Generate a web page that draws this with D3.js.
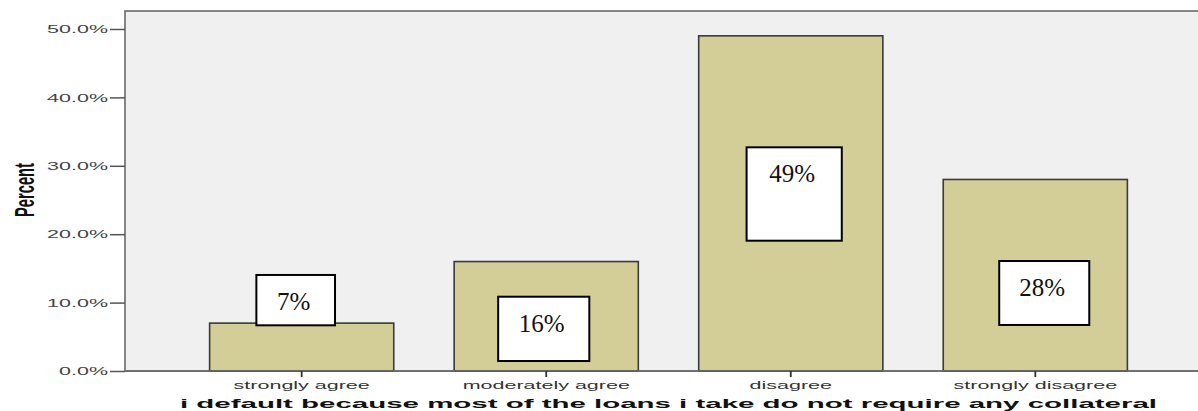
<!DOCTYPE html>
<html>
<head>
<meta charset="utf-8">
<script src="https://cdn.jsdelivr.net/npm/d3@7"></script>
<style>
  html, body { margin: 0; padding: 0; background: #ffffff; }
  svg { display: block; }
</style>
</head>
<body>
<script>
// ---- data ----
const categories = ["strongly agree", "moderately agree", "disagree", "strongly disagree"];
const percentValues = [7, 16, 49, 28];
const boxLabels = ["7%", "16%", "49%", "28%"];
const yTicks = [0, 10, 20, 30, 40, 50];
const yTickLabels = ["0.0%", "10.0%", "20.0%", "30.0%", "40.0%", "50.0%"];
const xTitle = "i default because most of the loans i take do not require any collateral";
const yTitle = "Percent";

// annotation box layout (fractions of bar width, percent units for top/bottom)
const boxLeftFrac = [0.254, 0.239, 0.260, 0.304];
const boxRightFrac = [0.681, 0.734, 0.777, 0.793];
const boxTop = [14.04, 10.86, 32.7, 16.08];
const boxBottom = [6.68, 1.46, 19.05, 6.73];

// ---- layout ----
const W = 1198, H = 411;
const plot = { left: 125, right: 1212, top: 11, bottom: 371 };
const SX = 2.15; // horizontal text stretch

const svg = d3.select("body").append("svg").attr("width", W).attr("height", H);

const x = d3.scaleBand().domain(categories).range([plot.left, plot.right])
  .paddingInner(0.247).paddingOuter(0.346);
const y = d3.scaleLinear().domain([0, 52.63]).range([plot.bottom, plot.top]);

// plot background
svg.append("rect")
  .attr("x", plot.left).attr("y", plot.top)
  .attr("width", plot.right - plot.left).attr("height", plot.bottom - plot.top)
  .attr("fill", "#f0f0f0").attr("stroke", "#6a6a6a").attr("stroke-width", 1.6);

// bars
const bars = categories.map((c, i) => ({ c, v: percentValues[i], i }));
svg.append("g").selectAll("rect").data(bars).join("rect")
  .attr("x", d => x(d.c)).attr("y", d => y(d.v))
  .attr("width", x.bandwidth()).attr("height", d => y(0) - y(d.v))
  .attr("fill", "#d3ce98").attr("stroke", "#3a3a3a").attr("stroke-width", 1.6);

// y axis
const yAxis = d3.axisLeft(y).tickValues(yTicks).tickFormat((d, i) => yTickLabels[i]).tickSize(15).tickPadding(0);
const gy = svg.append("g").attr("transform", `translate(${plot.left},0)`).call(yAxis);
gy.select(".domain").remove();
gy.selectAll(".tick line").attr("stroke", "#555").attr("stroke-width", 1.5);
gy.selectAll(".tick text")
  .attr("x", 0).attr("dy", "0.36em")
  .attr("transform", `translate(-17,0) scale(${SX},1.05)`)
  .attr("fill", "#444")
  .style("font-family", "'Liberation Sans', Arial, sans-serif").style("font-size", "10px");

// x axis
const xAxis = d3.axisBottom(x).tickSize(6).tickPadding(0);
const gx = svg.append("g").attr("transform", `translate(0,${plot.bottom})`).call(xAxis);
gx.select(".domain").attr("stroke", "#6a6a6a").attr("stroke-width", 1.6).attr("d", `M${plot.left},0H${plot.right}`);
gx.selectAll(".tick line").attr("stroke", "#333").attr("stroke-width", 1.8);
gx.selectAll(".tick text")
  .attr("y", 0).attr("dy", 0)
  .attr("transform", `translate(0,17.5) scale(${SX},1.05)`)
  .attr("fill", "#333")
  .style("font-family", "'Liberation Sans', Arial, sans-serif").style("font-size", "10px");

// annotation boxes
const boxes = categories.map((c, i) => {
  const bx = x(c), bw = x.bandwidth();
  return {
    x0: bx + boxLeftFrac[i] * bw, x1: bx + boxRightFrac[i] * bw,
    y0: y(boxTop[i]), y1: y(boxBottom[i]), label: boxLabels[i]
  };
});
const gb = svg.append("g");
gb.selectAll("rect").data(boxes).join("rect")
  .attr("x", d => d.x0).attr("y", d => d.y0)
  .attr("width", d => d.x1 - d.x0).attr("height", d => d.y1 - d.y0)
  .attr("fill", "#ffffff").attr("stroke", "#000").attr("stroke-width", 2);
gb.selectAll("text").data(boxes).join("text")
  .attr("x", d => (d.x0 + d.x1) / 2 - 2).attr("y", d => d.y0 + 35)
  .attr("text-anchor", "middle")
  .attr("fill", "#111")
  .style("font-family", "'Liberation Serif', 'Times New Roman', serif").style("font-size", "25px")
  .text(d => d.label);

// y title
svg.append("text")
  .attr("transform", `translate(33.5,190) rotate(-90) scale(1,${SX})`)
  .attr("text-anchor", "middle")
  .attr("textLength", 54).attr("lengthAdjust", "spacingAndGlyphs")
  .attr("fill", "#111")
  .style("font-family", "'Liberation Sans', Arial, sans-serif").style("font-size", "13px").style("font-weight", "bold")
  .text(yTitle);

// x title
svg.append("text")
  .attr("x", (plot.left + plot.right) / 2).attr("y", 408)
  .attr("text-anchor", "middle")
  .attr("textLength", 977).attr("lengthAdjust", "spacingAndGlyphs")
  .attr("fill", "#111")
  .style("font-family", "'Liberation Sans', Arial, sans-serif").style("font-size", "13px").style("font-weight", "bold")
  .text(xTitle);
</script>
</body>
</html>
